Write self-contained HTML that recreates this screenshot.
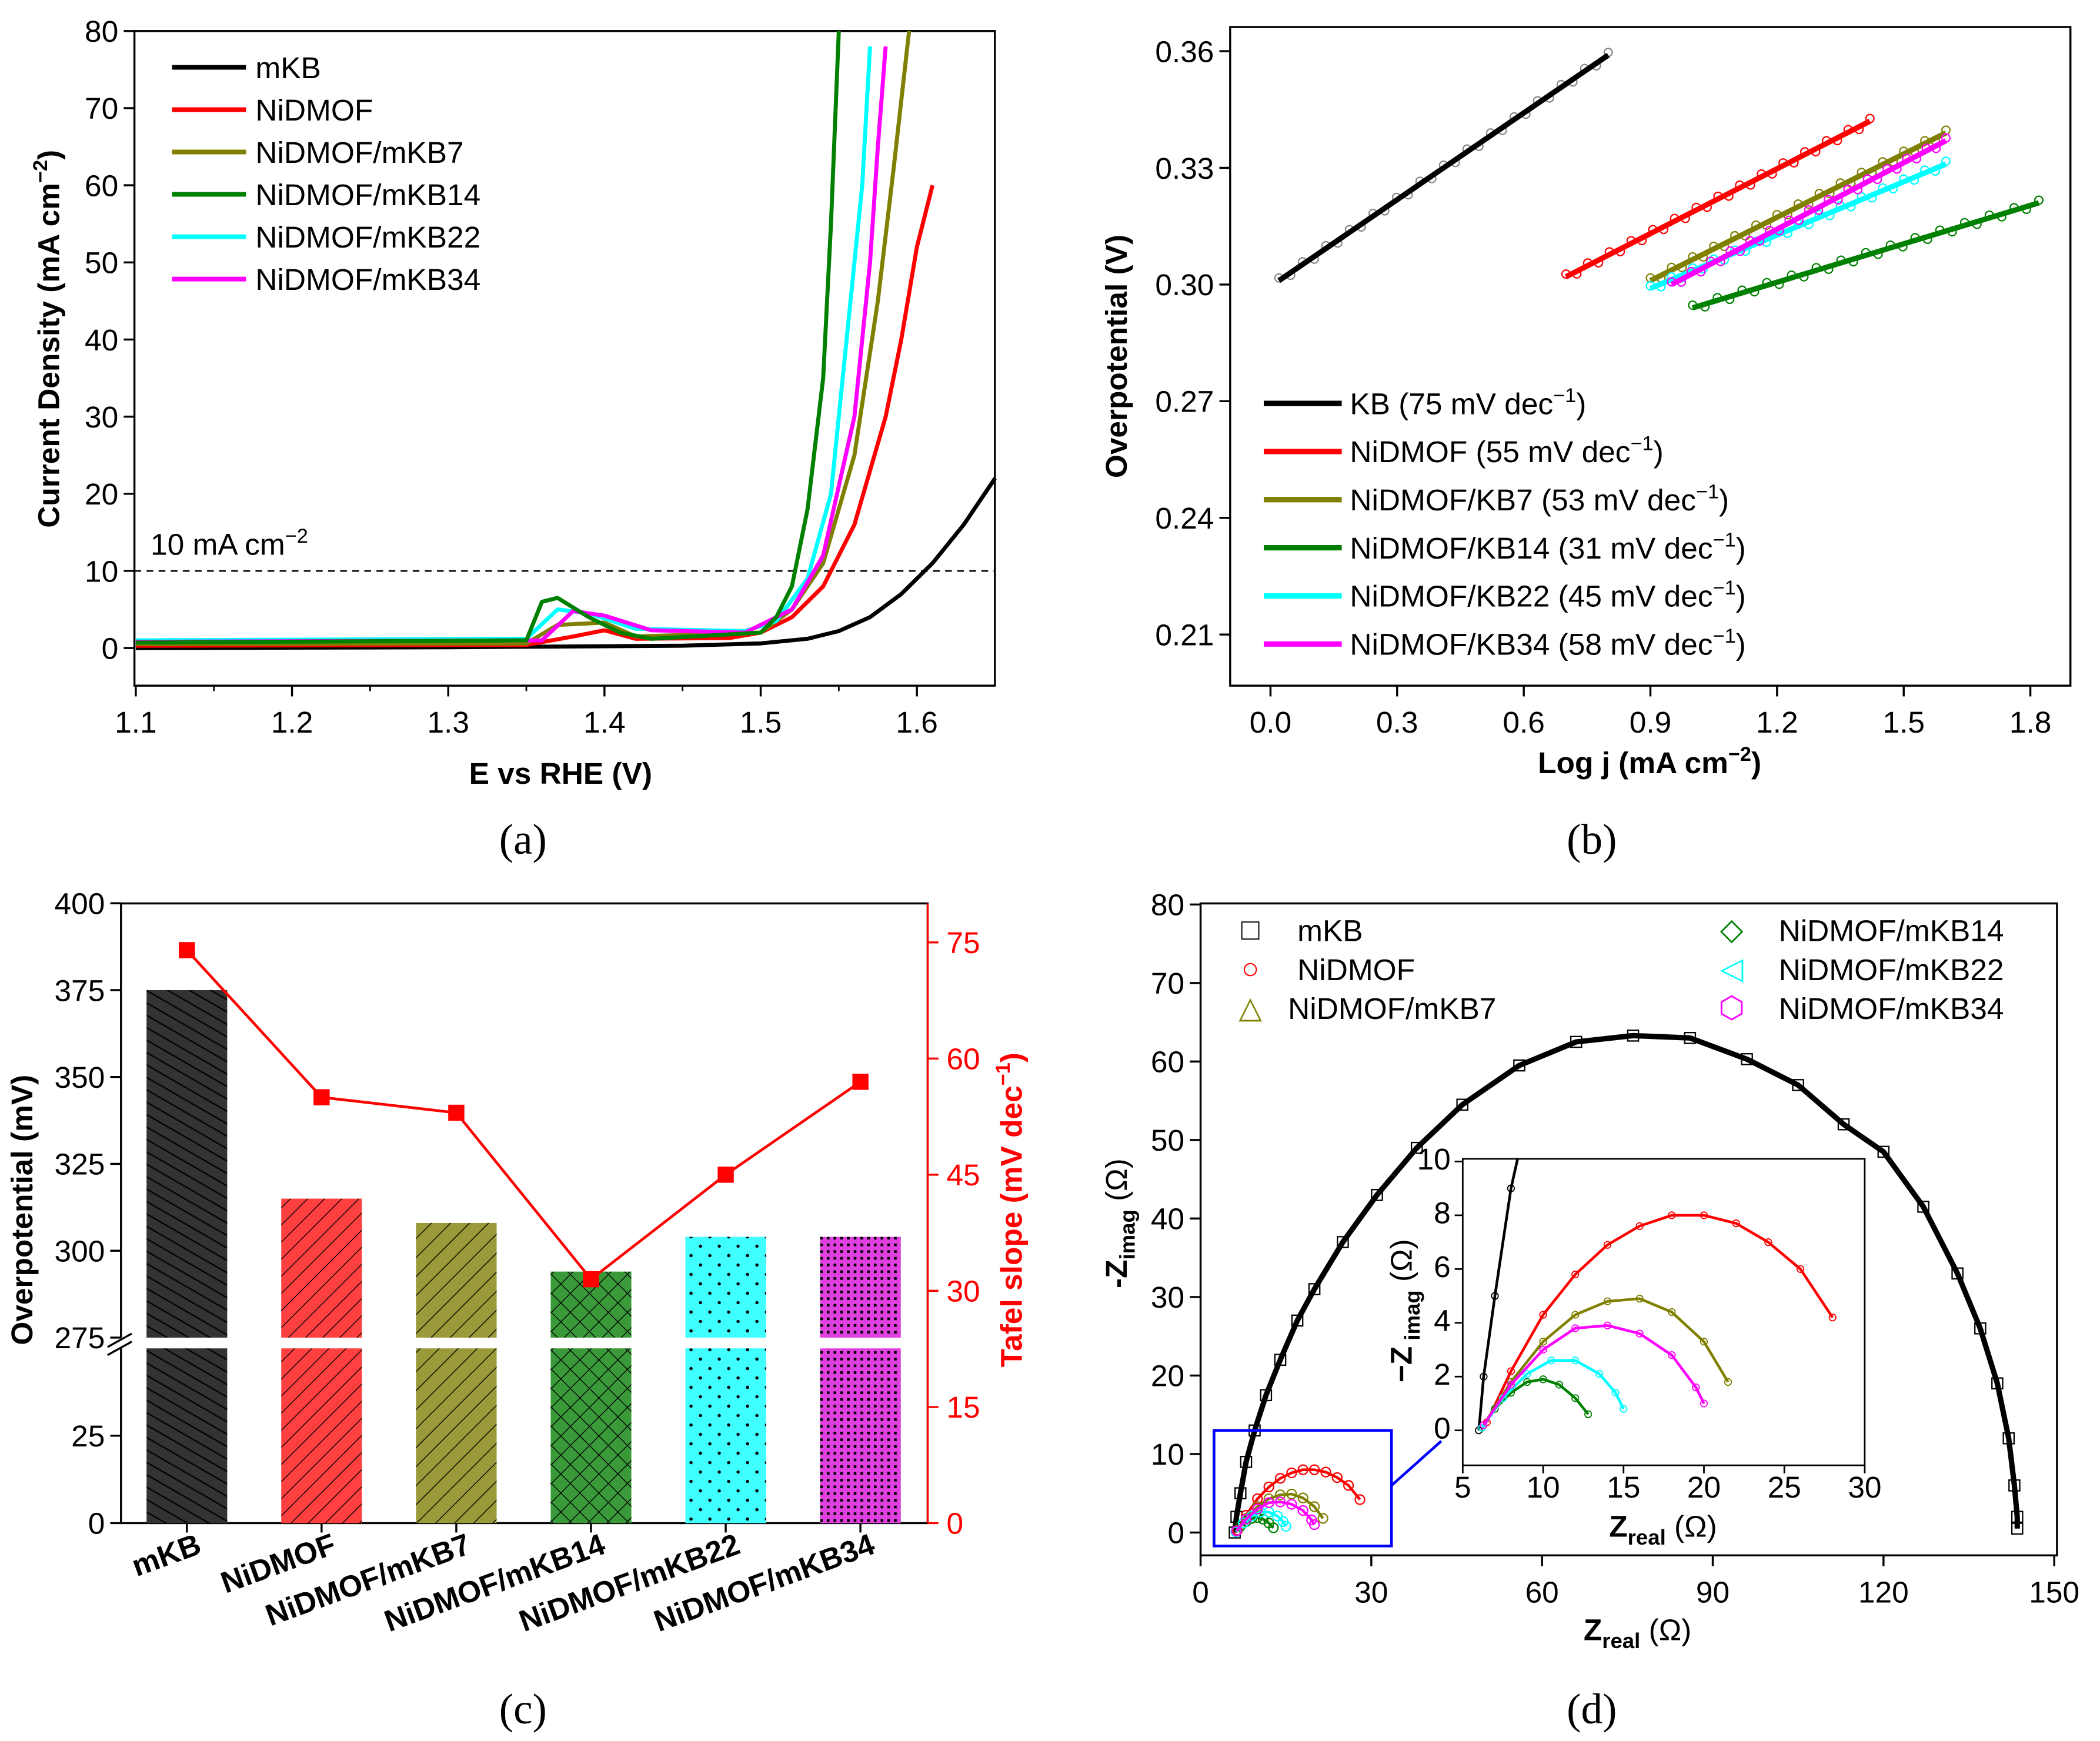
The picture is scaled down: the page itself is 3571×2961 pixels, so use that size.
<!DOCTYPE html>
<html><head><meta charset="utf-8"><style>
html,body{margin:0;padding:0;background:#fff}
svg{display:block;font-family:"Liberation Sans",sans-serif}
.t{font-size:22.5px}
.b{font-size:22.5px;font-weight:bold}
.cap{font-family:"Liberation Serif",serif;font-size:32px}
</style></head><body>
<svg id="s" width="3571" height="2961" viewBox="0 0 1562 1295" xmlns="http://www.w3.org/2000/svg">
<defs>
<pattern id="p0" width="8" height="8" patternUnits="userSpaceOnUse" patternTransform="rotate(-60)"><rect width="8" height="8" fill="#333"/><line x1="0" y1="0" x2="0" y2="8" stroke="#000" stroke-width="2"/></pattern>
<pattern id="p1" width="9" height="9" patternUnits="userSpaceOnUse" patternTransform="rotate(45)"><rect width="9" height="9" fill="#ff4040"/><line x1="0" y1="0" x2="0" y2="9" stroke="#000" stroke-width="1.2"/></pattern>
<pattern id="p2" width="10" height="10" patternUnits="userSpaceOnUse" patternTransform="rotate(45)"><rect width="10" height="10" fill="#9a9a3a"/><line x1="0" y1="0" x2="0" y2="10" stroke="#000" stroke-width="1.2"/></pattern>
<pattern id="p3" width="10" height="10" patternUnits="userSpaceOnUse" patternTransform="rotate(45)"><rect width="10" height="10" fill="#3a9a3a"/><line x1="0" y1="0" x2="0" y2="10" stroke="#000" stroke-width="1.2"/><line x1="0" y1="0" x2="10" y2="0" stroke="#000" stroke-width="1.2"/></pattern>
<pattern id="p4" width="14" height="14" patternUnits="userSpaceOnUse"><rect width="14" height="14" fill="#40ffff"/><circle cx="3" cy="3" r="1.2" fill="#000"/><circle cx="10" cy="10" r="1.2" fill="#000"/></pattern>
<pattern id="p5" width="5" height="5" patternUnits="userSpaceOnUse"><rect width="5" height="5" fill="#e040e0"/><rect x="0" y="0" width="2" height="2" fill="#000"/></pattern>
</defs>
<g id="g"></g>
</svg>
<script>
// ---------- Panel (a) LSV data ----------
const lsvNames=["mKB","NiDMOF","NiDMOF/mKB7","NiDMOF/mKB14","NiDMOF/mKB22","NiDMOF/mKB34"];
const lsvColors=["#000","#f00","#808000","#008000","#00ffff","#ff00ff"];
const lsvE0=[1.1,1.3,1.45,1.5,1.53,1.55,1.57,1.59,1.61,1.63,1.65];
const lsvJ0=[0,0.1,0.3,0.6,1.2,2.2,4,7,11,16,22];
const lsvE1=[1.1,1.35,1.38,1.4,1.42,1.48,1.5,1.52,1.54,1.56,1.58,1.59,1.6,1.605,1.61];
const lsvJ1=[0.3,0.4,1.5,2.3,1.2,1.3,2,4,8,16,30,40,52,56,60];
const lsvE2=[1.1,1.35,1.37,1.4,1.42,1.5,1.52,1.54,1.56,1.575,1.585,1.595];
const lsvJ2=[0.5,0.6,3,3.3,1.5,2,5,11,25,45,62,80];
const lsvE3=[1.1,1.35,1.36,1.37,1.39,1.41,1.43,1.5,1.51,1.52,1.53,1.54,1.545,1.55];
const lsvJ3=[0.7,1,6,6.5,4,2,1.2,2,4,8,18,35,55,80];
const lsvE4=[1.1,1.35,1.37,1.39,1.42,1.49,1.51,1.53,1.545,1.555,1.565,1.57];
const lsvJ4=[1,1.2,5,4.5,2.5,2.2,3.5,9,20,40,60,78];
const lsvE5=[1.1,1.36,1.38,1.4,1.43,1.49,1.52,1.54,1.56,1.57,1.575,1.58];
const lsvJ5=[0.8,1,4.8,4.2,2.3,2,5,12,30,50,65,78];
const aXTicks=[1.1,1.2,1.3,1.4,1.5,1.6];
const aYTicks=[0,10,20,30,40,50,60,70,80];
// ---------- Panel (b) Tafel ----------
const tafNames=["KB (75 mV dec","NiDMOF (55 mV dec","NiDMOF/KB7 (53 mV dec","NiDMOF/KB14 (31 mV dec","NiDMOF/KB22 (45 mV dec","NiDMOF/KB34 (58 mV dec"];
const tafX0=[0.02,0.7,0.9,1.0,0.9,0.95];
const tafX1=[0.80,1.42,1.6,1.82,1.6,1.6];
const tafY0=[0.301,0.302,0.301,0.294,0.299,0.300];
const tafY1=[0.359,0.342,0.339,0.321,0.331,0.337];
const bXTicks=[0.0,0.3,0.6,0.9,1.2,1.5,1.8];
const bYTicks=[0.21,0.24,0.27,0.30,0.33,0.36];
// ---------- Panel (c) bars ----------
const barCats=["mKB","NiDMOF","NiDMOF/mKB7","NiDMOF/mKB14","NiDMOF/mKB22","NiDMOF/mKB34"];
const barEta=[375,315,308,294,304,304];
const tafelSlope=[74,55,53,31.5,45,57];
const cYTop=[275,300,325,350,375,400];
const cYBot=[0,25];
const cYR=[0,15,30,45,60,75];
// ---------- Panel (d) EIS ----------
const eisRe0=[6,6.3,7,8,9.5,11.5,14,17,20,25,31,38,46,56,66,76,86,96,105,113,120,127,133,137,140,142,143,143.5,143.5];
const eisIm0=[0,2,5,9,13,17.5,22,27,31,37,43,49,54.5,59.5,62.5,63.3,63,60.3,57,52,48.5,41.5,33,26,19,12,6,2,0.5];
const eisRe1=[6.5,8,10,12,14,16,18,20,22,24,26,28];
const eisIm1=[0.3,2.2,4.3,5.8,6.9,7.6,8,8,7.7,7,6,4.2];
const eisRe2=[6.3,8,10,12,14,16,18,20,21.5];
const eisIm2=[0.2,1.8,3.3,4.3,4.8,4.9,4.4,3.3,1.8];
const eisRe3=[6.2,7,8,9,10,11,12,12.8];
const eisIm3=[0.1,0.8,1.4,1.8,1.9,1.7,1.2,0.6];
const eisRe4=[6.2,7.5,9,10.5,12,13.5,14.5,15];
const eisIm4=[0.1,1.2,2.1,2.6,2.6,2.1,1.4,0.8];
const eisRe5=[6.3,8,10,12,14,16,18,19.5,20];
const eisIm5=[0.2,1.7,3.0,3.8,3.9,3.6,2.8,1.6,1.0];
const dXT=[0,30,60,90,120,150], dYT=[0,10,20,30,40,50,60,70,80];
const iXT=[5,10,15,20,25,30], iYT=[0,2,4,6,8,10];

const NS="http://www.w3.org/2000/svg", G=document.getElementById('g');
function el(tag,at,txt,par){const e=document.createElementNS(NS,tag);for(const k in at)e.setAttribute(k,at[k]);if(txt!=null)e.textContent=txt;(par||G).appendChild(e);return e;}
function txt(x,y,s,cls,anchor,name,fill){const e=el('text',{x:x,y:y,class:cls||'t','text-anchor':anchor||'middle',fill:fill||'#000'},s);

return e;}
function line(x1,y1,x2,y2,c,w,name,dash){const e=el('line',{x1,y1,x2,y2,stroke:c||'#000','stroke-width':w||1.5});if(dash)e.setAttribute('stroke-dasharray',dash);

return e;}
function poly(pts,c,w,name){const e=el('polyline',{points:pts.map(p=>p.join(',')).join(' '),fill:'none',stroke:c,'stroke-width':w,'stroke-linejoin':'round'});

return e;}
function box(l,t,r,b,name){const e=el('rect',{x:l,y:t,width:r-l,height:b-t,fill:'none',stroke:'#000','stroke-width':1.5});

}

// ===== Panel a =====
{const L=100,R=740,T=23,B=510;
const X=v=>101+(v-1.1)*1162, Y=v=>482-v*5.7375;
box(L,T,R,B,'lsv-plot-frame');
aXTicks.forEach(v=>{line(X(v),B,X(v),B+8,'#000',1.5,'x-tick');txt(X(v),B+35,v.toFixed(1),'t','middle','x-tick-label');});
for(let v=1.15;v<1.65;v+=0.1)line(X(v),B,X(v),B+4,'#000',1.2,'x-minor-tick');
aYTicks.forEach(v=>{line(L-8,Y(v),L,Y(v),'#000',1.5,'y-tick');txt(L-12,Y(v)+8,String(v),'t','end','y-tick-label');});
line(L,Y(10),R,Y(10),'#000',1.2,'10-ma-reference-line','5,4');
txt(112,Y(10)-12,'10 mA cm','t','start','reference-label').innerHTML='10 mA cm<tspan dy="-9" font-size="15">−2</tspan>';
const Es=[lsvE0,lsvE1,lsvE2,lsvE3,lsvE4,lsvE5],Js=[lsvJ0,lsvJ1,lsvJ2,lsvJ3,lsvJ4,lsvJ5];
[0,1,2,4,5,3].forEach(i=>poly(Es[i].map((e,k)=>[X(e),Y(Math.min(Js[i][k],80))]),lsvColors[i],3,'lsv-curve-'+i));
lsvNames.forEach((n,i)=>{line(128,50+i*31.5,183,50+i*31.5,lsvColors[i],3.5,'legend-swatch');txt(190,58+i*31.5,n,'t','start','legend-entry');});
txt(417,583,'E vs RHE (V)','b','middle','x-axis-title');
const yt=txt(0,0,'','b','middle','y-axis-title');yt.setAttribute('transform','translate(44,252) rotate(-90)');
yt.innerHTML='Current Density (mA cm<tspan dy="-9" font-size="15">−2</tspan><tspan dy="9">)</tspan>';
txt(389,635,'(a)','cap','middle','panel-caption-a');}

// ===== Panel b =====
{const L=915,R=1540,T=20,B=510;
const X=v=>945+v*314, Y=v=>38+(0.36-v)*2893;
box(L,T,R,B,'tafel-plot-frame');
bXTicks.forEach(v=>{line(X(v),B,X(v),B+8,'#000',1.5,'x-tick');txt(X(v),B+35,v.toFixed(1),'t','middle','x-tick-label');});
bYTicks.forEach(v=>{line(L-8,Y(v),L,Y(v),'#000',1.5,'y-tick');txt(L-12,Y(v)+8,v.toFixed(2),'t','end','y-tick-label');});
tafX0.forEach((x0,i)=>{const x1=tafX1[i],y0=tafY0[i],y1=tafY1[i];
 for(let k=0;k<=28;k++){const f=k/28,x=x0+(x1-x0)*f,y=y0+(y1-y0)*f;const c=i==0?'#888':lsvColors[i];
  const m=el('circle',{cx:X(x),cy:Y(y)+ (k%2?2:-2),r:3,fill:'none',stroke:c,'stroke-width':1});
  
  }
 line(X(x0),Y(y0),X(x1),Y(y1),lsvColors[i],4,'tafel-fit-line-'+i);});
tafNames.forEach((n,i)=>{const y=300+i*35.8;line(940,y,998,y,lsvColors[i],4,'legend-swatch');
 txt(1004,y+8,'','t','start','legend-entry').innerHTML=n+'<tspan dy="-9" font-size="15">−1</tspan><tspan dy="9">)</tspan>';});
txt(1227,575,'','b','middle','x-axis-title').innerHTML='Log j (mA cm<tspan dy="-9" font-size="15">−2</tspan><tspan dy="9">)</tspan>';
const yt=txt(0,0,'Overpotential (V)','b','middle','y-axis-title');yt.setAttribute('transform','translate(838,265) rotate(-90)');
txt(1184,635,'(b)','cap','middle','panel-caption-b');}

// ===== Panel c =====
{const L=90,R=690,T=672,B=1133;
const Yt=v=>995-(v-275)*2.585, Yb=v=>1133-v*2.6, YR=v=>1133-v*5.76;
const X=i=>139+i*100.2;
box(L,T,R,B,'bar-plot-frame');
barEta.forEach((v,i)=>{const r=el('rect',{x:X(i)-30,y:Yt(v),width:60,height:B-Yt(v),fill:'url(#p'+i+')'});
 
 });
const br=el('rect',{x:L-20,y:995,width:R-L+10,height:8,fill:'#fff'});
line(L-10,1002,L+8,992,'#000',1.5,'break-mark');line(L-10,1008,L+8,998,'#000',1.5,'break-mark');
cYTop.forEach(v=>{line(L-8,Yt(v),L,Yt(v),'#000',1.5,'y-tick');txt(L-12,Yt(v)+8,String(v),'t','end','y-tick-label');});
cYBot.forEach(v=>{line(L-8,Yb(v),L,Yb(v),'#000',1.5,'y-tick');txt(L-12,Yb(v)+8,String(v),'t','end','y-tick-label');});
line(R,T,R,B,'#f00',1.5,'right-axis');
cYR.forEach(v=>{line(R,YR(v),R+8,YR(v),'#f00',1.5,'right-tick');txt(R+14,YR(v)+8,String(v),'t','start','right-tick-label','#f00');});
barCats.forEach((c,i)=>{line(X(i),B,X(i),B+7,'#000',1.5,'x-tick');const t=txt(X(i)+12,B+22,c,'b','end','x-category-label');t.setAttribute('font-size','20');t.setAttribute('transform','rotate(-20 '+(X(i)+12)+' '+(B+22)+')');});
poly(tafelSlope.map((v,i)=>[X(i),YR(v)]),'#f00',2,'tafel-slope-line');
tafelSlope.forEach((v,i)=>{const r=el('rect',{x:X(i)-6,y:YR(v)-6,width:12,height:12,fill:'#f00'});});
const yt=txt(0,0,'Overpotential (mV)','b','middle','y-axis-title');yt.setAttribute('transform','translate(24,900) rotate(-90)');
const yr=txt(0,0,'','b','middle','right-axis-title','#f00');yr.setAttribute('transform','translate(760,900) rotate(-90)');
yr.innerHTML='Tafel slope (mV dec<tspan dy="-9" font-size="15">−1</tspan><tspan dy="9">)</tspan>';
txt(389,1282,'(c)','cap','middle','panel-caption-c');}

// ===== Panel d =====
{const L=893,R=1530,T=672,B=1157;
const X=v=>893+v*4.233, Y=v=>1140-v*5.84;
box(L,T,R,B,'eis-plot-frame');
dXT.forEach(v=>{line(X(v),B,X(v),B+8,'#000',1.5,'x-tick');txt(X(v),B+35,String(v),'t','middle','x-tick-label');});
dYT.forEach(v=>{line(L-8,Y(v),L,Y(v),'#000',1.5,'y-tick');txt(L-12,Y(v)+8,String(v),'t','end','y-tick-label');});
const Rs=[eisRe0,eisRe1,eisRe2,eisRe3,eisRe4,eisRe5],Is=[eisIm0,eisIm1,eisIm2,eisIm3,eisIm4,eisIm5];
Rs.forEach((re,i)=>{poly(re.map((r,k)=>[X(r),Y(Is[i][k])]),lsvColors[i],i==0?4:2,'eis-fit-'+i);
 re.forEach((r,k)=>{const m=el(i==0?'rect':'circle',i==0?{x:X(r)-4,y:Y(Is[i][k])-4,width:8,height:8,fill:'none',stroke:'#000','stroke-width':1}:{cx:X(r),cy:Y(Is[i][k]),r:3.5,fill:'none',stroke:lsvColors[i],'stroke-width':1});
  
  });});
const zb=el('rect',{x:903,y:1064,width:132,height:86,fill:'none',stroke:'#00f','stroke-width':2});
line(1035,1105,1072,1072,'#00f',2,'zoom-arrow');
const sym=['□','○','△','◇','◁','⬡'];
[[930,692,'mKB',965],[930,721,'NiDMOF',965],[930,750,'NiDMOF/mKB7',958]].forEach((a,i)=>{txt(a[0],a[1]+7,sym[i],'t','middle','legend-marker',lsvColors[i]);txt(a[3],a[1]+8,a[2],'t','start','legend-entry');});
[[1288,692,'NiDMOF/mKB14'],[1288,721,'NiDMOF/mKB22'],[1288,750,'NiDMOF/mKB34']].forEach((a,i)=>{txt(a[0],a[1]+7,sym[i+3],'t','middle','legend-marker',lsvColors[i+3]);txt(1323,a[1]+8,a[2],'t','start','legend-entry');});
const IL=1088,IR=1387,IT=862,IB=1090;
const ix=v=>1088+(v-5)*11.96, iy=v=>1064-v*20;
const ib=el('rect',{x:IL,y:IT,width:IR-IL,height:IB-IT,fill:'#fff',stroke:'#000','stroke-width':1.2});
iXT.forEach(v=>{line(ix(v),IB,ix(v),IB+6,'#000',1.2,'inset-x-tick');txt(ix(v),IB+24,String(v),'t','middle','inset-x-tick-label').setAttribute('font-size','16');});
iYT.forEach(v=>{line(IL-6,iy(v),IL,iy(v),'#000',1.2,'inset-y-tick');txt(IL-9,iy(v)+6,String(v),'t','end','inset-y-tick-label').setAttribute('font-size','16');});
const cp=el('clipPath',{id:'ic'});el('rect',{x:IL,y:IT,width:IR-IL,height:IB-IT},null,cp);
Rs.forEach((re,i)=>{const g=el('g',{'clip-path':'url(#ic)'});
 el('polyline',{points:re.map((r,k)=>ix(r)+','+iy(Is[i][k])).join(' '),fill:'none',stroke:lsvColors[i],'stroke-width':2},null,g);
 re.forEach((r,k)=>el('circle',{cx:ix(r),cy:iy(Is[i][k]),r:2.5,fill:'none',stroke:lsvColors[i],'stroke-width':0.8},null,g));});
txt(1237,1143,'','b','middle','inset-x-title').innerHTML='Z<tspan dy="6" font-size="16">real</tspan><tspan dy="-6" font-weight="normal"> (Ω)</tspan>';
const it=txt(0,0,'','b','middle','inset-y-title');it.setAttribute('transform','translate(1050,975) rotate(-90)');it.innerHTML='−Z<tspan dy="6" font-size="16"> imag</tspan><tspan dy="-6" font-weight="normal"> (Ω)</tspan>';
txt(1218,1220,'','b','middle','x-axis-title').innerHTML='Z<tspan dy="6" font-size="16">real</tspan><tspan dy="-6" font-weight="normal"> (Ω)</tspan>';
const yt=txt(0,0,'','b','middle','y-axis-title');yt.setAttribute('transform','translate(838,910) rotate(-90)');
yt.innerHTML='-Z<tspan dy="6" font-size="16">imag</tspan><tspan dy="-6" font-weight="normal"> (Ω)</tspan>';
txt(1184,1282,'(d)','cap','middle','panel-caption-d');}
</script>
</body></html>
